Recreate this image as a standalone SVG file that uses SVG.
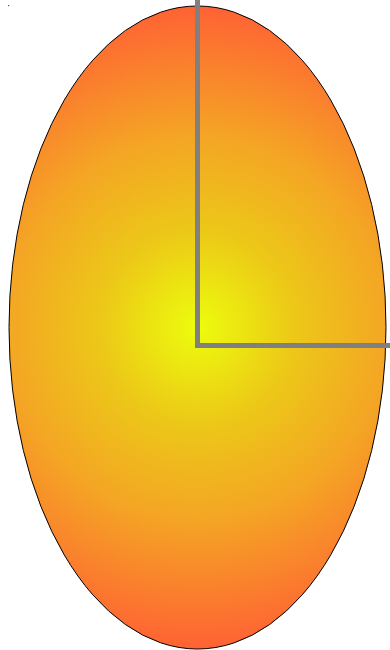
<svg xmlns="http://www.w3.org/2000/svg" width="390" height="650" viewBox="0 0 390 650">
  <defs>
    <radialGradient id="g" gradientUnits="userSpaceOnUse" cx="197.5" cy="327.5" r="321.5">
      <stop offset="0" stop-color="#ecfd0c"/>
      <stop offset="0.3" stop-color="#ecc818"/>
      <stop offset="0.59" stop-color="#f4a624"/>
      <stop offset="1" stop-color="#ff6234"/>
    </radialGradient>
  </defs>
  <style>
    .shape { fill: url(#g); stroke: #000; stroke-width: 1; }
    .conn { fill: none; stroke: #808080; stroke-width: 5; }
  </style>
  <rect x="8" y="5" width="1.2" height="1.2" fill="#555"/>
  <g id="ellipse">
    <ellipse class="shape" cx="197.5" cy="327.5" rx="188.5" ry="321.5"/>
  </g>
  <g id="connectors">
    <polyline class="conn" points="197.5,0 197.5,345.5 390,345.5"/>
  </g>
</svg>
